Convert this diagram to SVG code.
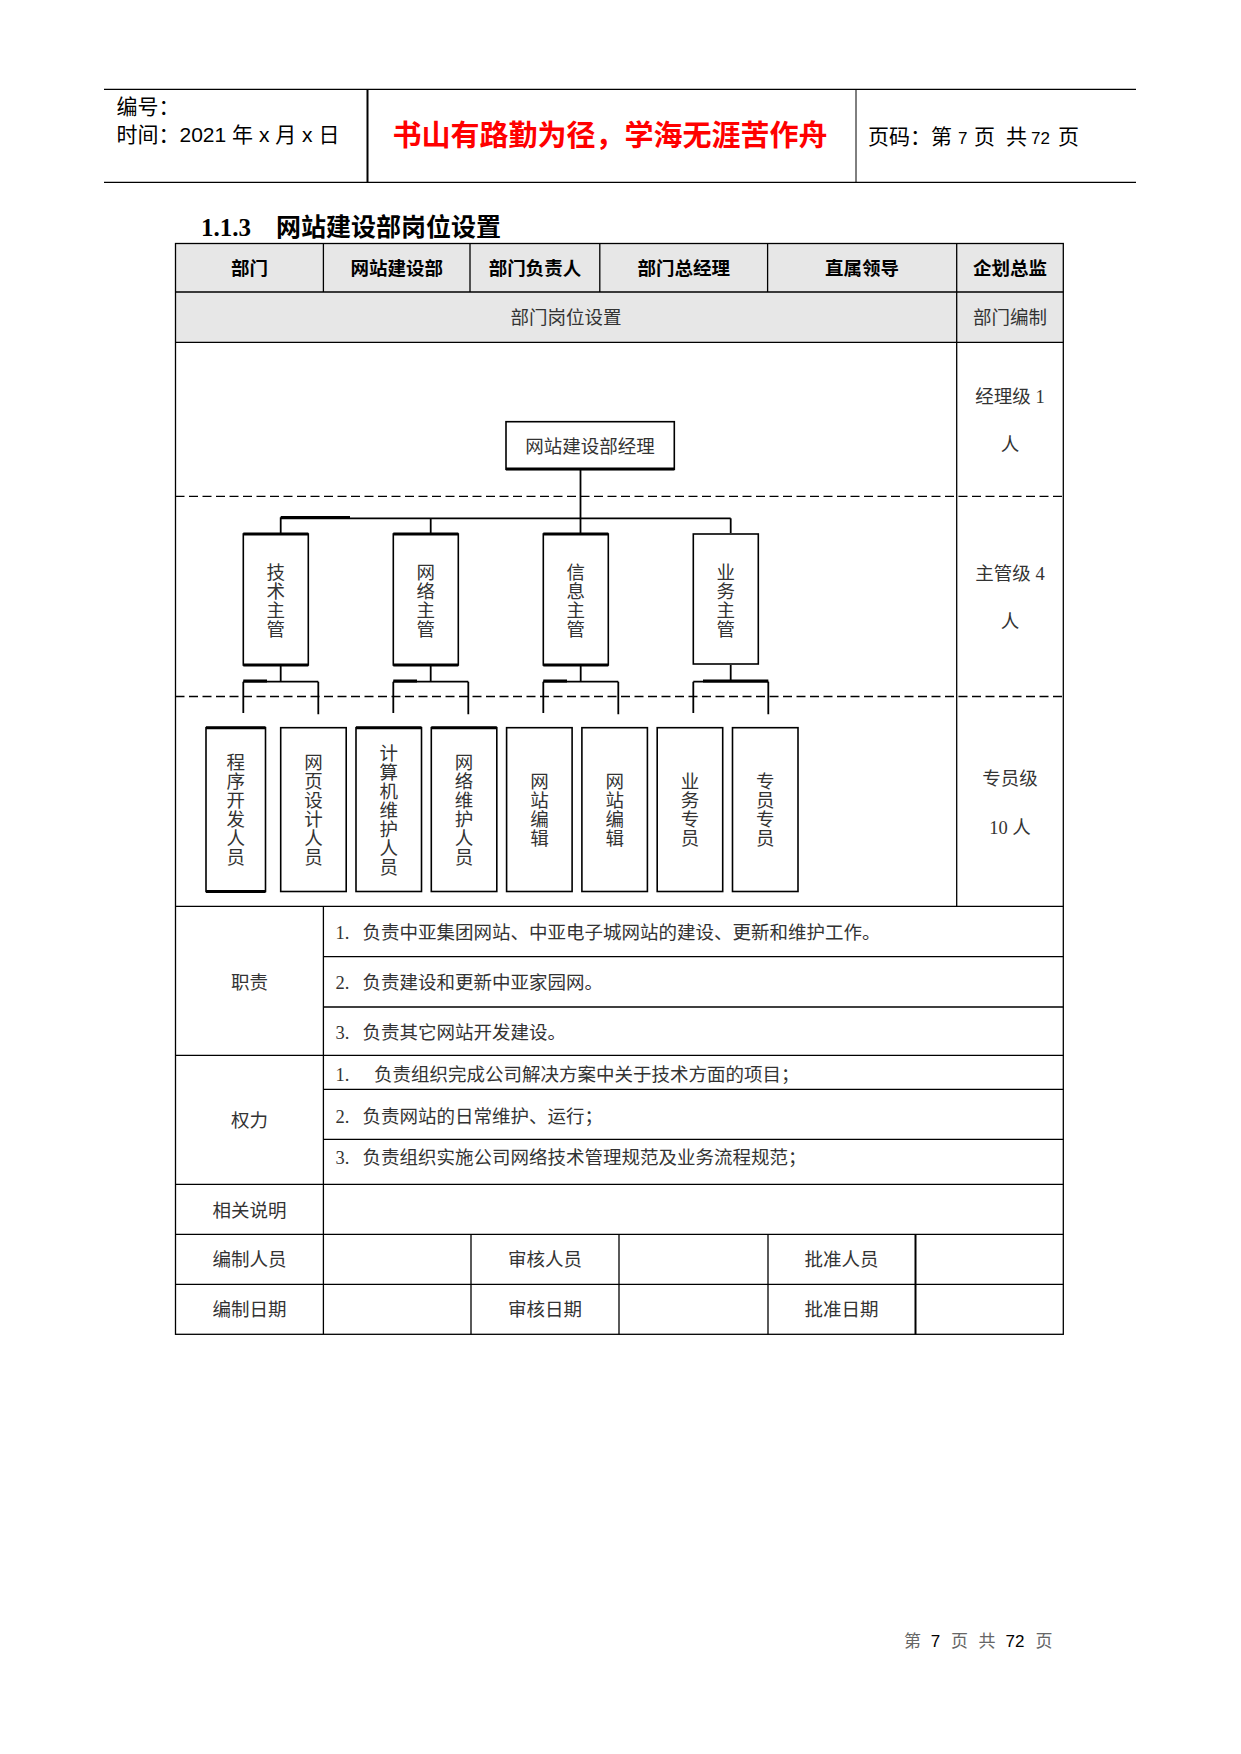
<svg xmlns="http://www.w3.org/2000/svg" width="1241" height="1754" viewBox="0 0 1241 1754">
<style>
.t{font-family:"Liberation Serif","Noto Sans CJK SC",serif;font-size:18.5px;fill:#333}
.tb{font-family:"Liberation Serif","Noto Sans CJK SC",serif;font-size:18.5px;font-weight:bold;fill:#000}
.m{text-anchor:middle}
.hs{font-family:"Liberation Sans","Noto Sans CJK SC",sans-serif;font-size:21px;fill:#000}
.ln{stroke:#000;stroke-width:1.3;fill:none}
.dash{stroke:#000;stroke-width:1.3;stroke-dasharray:9 4.5;fill:none}
.box{fill:#fff;stroke:#000;stroke-width:1.6}
.con{stroke:#000;stroke-width:1.8;fill:none}
.thk{stroke:#000;stroke-width:3;fill:none}
</style>
<rect x="0" y="0" width="1241" height="1754" fill="#fff"/>

<g id="page-header">
  <line class="ln" x1="104" y1="89.3" x2="1136" y2="89.3"/>
  <line class="ln" x1="104" y1="182.3" x2="1136" y2="182.3"/>
  <line x1="367.5" y1="89.3" x2="367.5" y2="182.3" stroke="#000" stroke-width="2"/>
  <line x1="856" y1="89.3" x2="856" y2="182.3" stroke="#000" stroke-width="1"/>
  <text class="hs" x="116.5" y="113.5">编号：</text>
  <text class="hs" x="116.5" y="141.5">时间：2021 年 x 月 x 日</text>
  <text x="610" y="146" text-anchor="middle" font-family="'Noto Sans CJK SC',sans-serif" font-size="29" font-weight="bold" fill="#ff0000">书山有路勤为径，学海无涯苦作舟</text>
  <text class="hs" y="144" font-size="20"><tspan x="868">页码：</tspan><tspan x="931">第</tspan><tspan x="958" font-size="17">7</tspan><tspan x="974">页</tspan><tspan x="1006">共</tspan><tspan x="1031" font-size="17">72</tspan><tspan x="1058">页</tspan></text>
</g>

<g id="section-title">
  <text y="236" font-family="'Liberation Serif','Noto Sans CJK SC',serif" font-weight="bold" fill="#000" font-size="25"><tspan x="201">1.1.3</tspan><tspan x="276" font-family="'Noto Sans CJK SC',sans-serif">网站建设部岗位设置</tspan></text>
</g>

<g id="table">
  <rect x="175.5" y="243.5" width="887.8" height="98.9" fill="#e7e7e7"/>
  <rect class="ln" x="175.5" y="243.5" width="887.8" height="1090.8"/>
  <line class="ln" x1="175.5" y1="292" x2="1063.3" y2="292"/>
  <line class="ln" x1="175.5" y1="342.4" x2="1063.3" y2="342.4"/>
  <line class="ln" x1="175.5" y1="906.4" x2="1063.3" y2="906.4"/>
  <line class="ln" x1="175.5" y1="1055.3" x2="1063.3" y2="1055.3"/>
  <line class="ln" x1="175.5" y1="1184.3" x2="1063.3" y2="1184.3"/>
  <line class="ln" x1="175.5" y1="1234.3" x2="1063.3" y2="1234.3"/>
  <line class="ln" x1="175.5" y1="1284.3" x2="1063.3" y2="1284.3"/>
  <line class="ln" x1="323.4" y1="956.7" x2="1063.3" y2="956.7"/>
  <line class="ln" x1="323.4" y1="1007" x2="1063.3" y2="1007"/>
  <line class="ln" x1="323.4" y1="1089.3" x2="1063.3" y2="1089.3"/>
  <line class="ln" x1="323.4" y1="1139.3" x2="1063.3" y2="1139.3"/>
  <line class="ln" x1="956.7" y1="243.5" x2="956.7" y2="906.4"/>
  <line class="ln" x1="323.4" y1="243.5" x2="323.4" y2="292"/>
  <line class="ln" x1="470" y1="243.5" x2="470" y2="292"/>
  <line class="ln" x1="599.8" y1="243.5" x2="599.8" y2="292"/>
  <line class="ln" x1="767.6" y1="243.5" x2="767.6" y2="292"/>
  <line class="ln" x1="323.4" y1="906.4" x2="323.4" y2="1334.3"/>
  <line class="ln" x1="471" y1="1234.3" x2="471" y2="1334.3"/>
  <line class="ln" x1="619" y1="1234.3" x2="619" y2="1334.3"/>
  <line class="ln" x1="768" y1="1234.3" x2="768" y2="1334.3"/>
  <line x1="915.5" y1="1234.3" x2="915.5" y2="1334.3" stroke="#000" stroke-width="2"/>
  <line class="dash" x1="175.5" y1="496.3" x2="1063.3" y2="496.3"/>
  <line class="dash" x1="175.5" y1="696.5" x2="1063.3" y2="696.5"/>

  <text class="tb m" x="249.5" y="274.8">部门</text>
  <text class="tb m" x="396.7" y="274.8">网站建设部</text>
  <text class="tb m" x="534.9" y="274.8">部门负责人</text>
  <text class="tb m" x="683.7" y="274.8">部门总经理</text>
  <text class="tb m" x="862" y="274.8">直属领导</text>
  <text class="tb m" x="1010" y="274.8">企划总监</text>
  <text class="t m" x="566" y="324">部门岗位设置</text>
  <text class="t m" x="1010" y="324">部门编制</text>

  <text class="t m" x="1010" y="403">经理级 1</text>
  <text class="t m" x="1010" y="451">人</text>
  <text class="t m" x="1010" y="580">主管级 4</text>
  <text class="t m" x="1010" y="628">人</text>
  <text class="t m" x="1010" y="785">专员级</text>
  <text class="t m" x="1010" y="834">10 人</text>

  <text class="t m" x="249.5" y="988.5">职责</text>
  <text class="t" y="938.5"><tspan x="335.5">1.</tspan><tspan x="362.5">负责中亚集团网站、中亚电子城网站的建设、更新和维护工作。</tspan></text>
  <text class="t" y="988.8"><tspan x="335.5">2.</tspan><tspan x="362.5">负责建设和更新中亚家园网。</tspan></text>
  <text class="t" y="1039"><tspan x="335.5">3.</tspan><tspan x="362.5">负责其它网站开发建设。</tspan></text>
  <text class="t m" x="249.5" y="1127">权力</text>
  <text class="t" y="1081"><tspan x="335.5">1.</tspan><tspan x="374">负责组织完成公司解决方案中关于技术方面的项目；</tspan></text>
  <text class="t" y="1123"><tspan x="335.5">2.</tspan><tspan x="362.5">负责网站的日常维护、运行；</tspan></text>
  <text class="t" y="1164"><tspan x="335.5">3.</tspan><tspan x="362.5">负责组织实施公司网络技术管理规范及业务流程规范；</tspan></text>
  <text class="t m" x="249.5" y="1217">相关说明</text>
  <text class="t m" x="249.5" y="1266.3">编制人员</text>
  <text class="t m" x="545" y="1266.3">审核人员</text>
  <text class="t m" x="841.5" y="1266.3">批准人员</text>
  <text class="t m" x="249.5" y="1316.3">编制日期</text>
  <text class="t m" x="545" y="1316.3">审核日期</text>
  <text class="t m" x="841.5" y="1316.3">批准日期</text>
</g>

<g id="connectors">
  <line class="con" x1="580.5" y1="469.3" x2="580.5" y2="534"/>
  <line class="con" x1="280.7" y1="518.3" x2="730.7" y2="518.3"/>
  <line class="thk" x1="280.7" y1="517.5" x2="350" y2="517.5"/>
  <line class="con" x1="280.7" y1="517.3" x2="280.7" y2="534"/>
  <line class="con" x1="430.7" y1="518.3" x2="430.7" y2="534"/>
  <line class="con" x1="730.7" y1="518.3" x2="730.7" y2="533"/>
  <path class="con" d="M280.7 665 V681.7 M243.3 681.7 H318.3 M243.3 681.7 V713 M318.3 681.7 V714.3"/>
  <path class="con" d="M430.7 665 V681.7 M393.3 681.7 H468.3 M393.3 681.7 V713 M468.3 681.7 V714.3"/>
  <path class="con" d="M580.7 665 V681.7 M543.3 681.7 H618.3 M543.3 681.7 V713 M618.3 681.7 V714.3"/>
  <path class="con" d="M730.7 665 V681.7 M693.3 681.7 H768.3 M693.3 681.7 V713 M768.3 681.7 V714.3"/>
  <path class="thk" d="M243.3 681 H267 M393.3 681 H417 M543.3 681 H567 M703 681 H768.3"/>
</g>

<g id="node-manager">
  <rect class="box" x="506" y="421.7" width="168.3" height="47.6"/>
  <line class="thk" x1="506" y1="469" x2="674.3" y2="469"/>
  <text class="t m" x="590" y="452.5">网站建设部经理</text>
</g>

<g id="node-tech">
  <rect class="box" x="243.3" y="534" width="65" height="131"/>
  <path class="thk" d="M243.3 534 H308.3 M243.3 665 H308.3"/>
  <text class="t m" x="275.8" y="578.5"><tspan x="275.8">技</tspan><tspan x="275.8" dy="19">术</tspan><tspan x="275.8" dy="19">主</tspan><tspan x="275.8" dy="19">管</tspan></text>
</g>
<g id="node-network">
  <rect class="box" x="393.3" y="534" width="65" height="131"/>
  <path class="thk" d="M393.3 534 H458.3 M393.3 665 H458.3"/>
  <text class="t m" x="425.8" y="578.5"><tspan x="425.8">网</tspan><tspan x="425.8" dy="19">络</tspan><tspan x="425.8" dy="19">主</tspan><tspan x="425.8" dy="19">管</tspan></text>
</g>
<g id="node-info">
  <rect class="box" x="543.3" y="534" width="65" height="131"/>
  <path class="thk" d="M543.3 534 H608.3 M543.3 665 H608.3"/>
  <text class="t m" x="575.8" y="578.5"><tspan x="575.8">信</tspan><tspan x="575.8" dy="19">息</tspan><tspan x="575.8" dy="19">主</tspan><tspan x="575.8" dy="19">管</tspan></text>
</g>
<g id="node-business">
  <rect class="box" x="693.3" y="534" width="65" height="130"/>
  <text class="t m" x="725.8" y="578.5"><tspan x="725.8">业</tspan><tspan x="725.8" dy="19">务</tspan><tspan x="725.8" dy="19">主</tspan><tspan x="725.8" dy="19">管</tspan></text>
</g>

<g id="node-staff1">
  <rect class="box" x="206" y="727.7" width="59.5" height="163.8"/>
  <path class="thk" d="M206 727.7 H265.5 M206 891.5 H265.5"/>
  <text class="t m" x="235.8" y="769"><tspan x="235.8">程</tspan><tspan x="235.8" dy="19">序</tspan><tspan x="235.8" dy="19">开</tspan><tspan x="235.8" dy="19">发</tspan><tspan x="235.8" dy="19">人</tspan><tspan x="235.8" dy="19">员</tspan></text>
</g>
<g id="node-staff2">
  <rect class="box" x="280.7" y="727.7" width="65.5" height="163.8" stroke-width="2.4"/>
  <text class="t m" x="313.5" y="769"><tspan x="313.5">网</tspan><tspan x="313.5" dy="19">页</tspan><tspan x="313.5" dy="19">设</tspan><tspan x="313.5" dy="19">计</tspan><tspan x="313.5" dy="19">人</tspan><tspan x="313.5" dy="19">员</tspan></text>
</g>
<g id="node-staff3">
  <rect class="box" x="356" y="727.7" width="65.5" height="163.8"/>
  <line class="thk" x1="356" y1="727.7" x2="421.5" y2="727.7"/>
  <text class="t m" x="388.8" y="759.5"><tspan x="388.8">计</tspan><tspan x="388.8" dy="19">算</tspan><tspan x="388.8" dy="19">机</tspan><tspan x="388.8" dy="19">维</tspan><tspan x="388.8" dy="19">护</tspan><tspan x="388.8" dy="19">人</tspan><tspan x="388.8" dy="19">员</tspan></text>
</g>
<g id="node-staff4">
  <rect class="box" x="431.3" y="727.7" width="65.5" height="163.8"/>
  <line class="thk" x1="431.3" y1="727.7" x2="496.8" y2="727.7"/>
  <text class="t m" x="464" y="769"><tspan x="464">网</tspan><tspan x="464" dy="19">络</tspan><tspan x="464" dy="19">维</tspan><tspan x="464" dy="19">护</tspan><tspan x="464" dy="19">人</tspan><tspan x="464" dy="19">员</tspan></text>
</g>
<g id="node-staff5">
  <rect class="box" x="506.6" y="727.7" width="65.5" height="163.8" stroke-width="2.4"/>
  <text class="t m" x="539.4" y="788"><tspan x="539.4">网</tspan><tspan x="539.4" dy="19">站</tspan><tspan x="539.4" dy="19">编</tspan><tspan x="539.4" dy="19">辑</tspan></text>
</g>
<g id="node-staff6">
  <rect class="box" x="581.9" y="727.7" width="65.5" height="163.8"/>
  <text class="t m" x="614.7" y="788"><tspan x="614.7">网</tspan><tspan x="614.7" dy="19">站</tspan><tspan x="614.7" dy="19">编</tspan><tspan x="614.7" dy="19">辑</tspan></text>
</g>
<g id="node-staff7">
  <rect class="box" x="657.2" y="727.7" width="65.5" height="163.8"/>
  <text class="t m" x="690" y="788"><tspan x="690">业</tspan><tspan x="690" dy="19">务</tspan><tspan x="690" dy="19">专</tspan><tspan x="690" dy="19">员</tspan></text>
</g>
<g id="node-staff8">
  <rect class="box" x="732.5" y="727.7" width="65.5" height="163.8"/>
  <text class="t m" x="765.3" y="788"><tspan x="765.3">专</tspan><tspan x="765.3" dy="19">员</tspan><tspan x="765.3" dy="19">专</tspan><tspan x="765.3" dy="19">员</tspan></text>
</g>

<g id="page-footer">
  <text y="1647" font-family="'Liberation Sans','Noto Sans CJK SC',sans-serif" font-size="17" text-anchor="middle"><tspan x="912.5" fill="#666">第</tspan><tspan x="935.5" fill="#000">7</tspan><tspan x="959.5" fill="#666">页</tspan><tspan x="987" fill="#666">共</tspan><tspan x="1015" fill="#000">72</tspan><tspan x="1044" fill="#666">页</tspan></text>
</g>
</svg>
